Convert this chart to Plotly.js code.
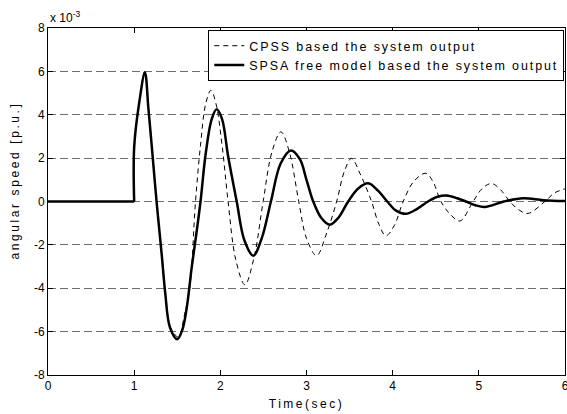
<!DOCTYPE html>
<html>
<head>
<meta charset="utf-8">
<script src="https://cdn.plot.ly/plotly-3.0.1.min.js"></script>
<style>
  html, body { margin: 0; padding: 0; background: #fff; }
  #chart { width: 567px; height: 414px; }
  .legendtext { letter-spacing: 1.9px; }
  .xtitle { letter-spacing: 2.5px; }
  .annotation[data-index="1"] .annotation-text { letter-spacing: 2.6px; }
</style>
</head>
<body>
<div id="chart"></div>
<script>
// ---- data ----
const seriesNames = ["CPSS based the system output", "SPSA free model based the system output"];

// common pre-disturbance segment (both outputs are zero until t = 1 s)
const tFlat = [0, 1.0];
const vFlat = [0, 0];

// CPSS (dashed)
const tCPSS = [1.0, 1.0, 1.06, 1.12, 1.165, 1.205, 1.26, 1.32, 1.36, 1.42, 1.515, 1.58, 1.647, 1.712, 1.77, 1.83, 1.891, 1.95, 2.02, 2.09, 2.18, 2.285, 2.39, 2.497, 2.6, 2.703, 2.8, 2.91, 3.0, 3.117, 3.23, 3.35, 3.44, 3.523, 3.62, 3.755, 3.84, 3.921, 4.02, 4.122, 4.25, 4.385, 4.47, 4.56, 4.67, 4.78, 4.934, 5.04, 5.147, 5.25, 5.36, 5.47, 5.572, 5.766, 5.88, 6.0];
const vCPSS = [0, 2.5, 4.6, 6.0, 4.3, 2.6, 0, -2.4, -4.2, -5.8, -6.25, -5.3, -3.9, 0, 2.6, 4.5, 5.13, 4.5, 2.6, 0, -2.7, -3.84, -2.6, 0, 2.3, 3.21, 2.3, 0, -1.7, -2.5, -1.5, 0, 1.4, 1.99, 1.3, 0, -1.05, -1.58, -1.1, 0, 0.95, 1.30, 0.9, 0, -0.6, -0.9, 0, 0.6, 0.83, 0.55, 0, -0.4, -0.55, 0, 0.4, 0.58];

// SPSA free model (solid)
const tSPSA = [1.0, 1.0, 1.06, 1.125, 1.165, 1.203, 1.26, 1.32, 1.36, 1.415, 1.5, 1.56, 1.61, 1.667, 1.725, 1.77, 1.83, 1.9, 1.957, 2.02, 2.09, 2.19, 2.28, 2.382, 2.48, 2.587, 2.7, 2.819, 2.923, 3.0, 3.078, 3.17, 3.271, 3.37, 3.484, 3.6, 3.716, 3.83, 3.937, 4.04, 4.153, 4.28, 4.41, 4.52, 4.625, 4.75, 4.85, 4.96, 5.07, 5.29, 5.514, 5.75, 6.0];
const vSPSA = [0, 2.5, 4.6, 5.95, 4.3, 2.6, 0, -2.46, -4.2, -5.8, -6.35, -5.9, -4.9, -3.06, -1.39, 0, 2.2, 3.8, 4.25, 3.8, 2.1, 0, -1.8, -2.5, -1.7, 0, 1.75, 2.35, 1.95, 1.0, 0, -0.75, -1.07, -0.75, 0, 0.6, 0.84, 0.5, 0, -0.42, -0.57, -0.35, 0, 0.22, 0.28, 0.15, 0, -0.17, -0.25, 0, 0.15, 0.06, 0.02];

const xTicks = [0, 1, 2, 3, 4, 5, 6];
const yTicks = [-8, -6, -4, -2, 0, 2, 4, 6, 8];
const yTickText = ["-8", "-6", "-4", "-2", "0", "2", "4", "6", "8"];
const xTitle = "Time(sec)";
const yTitle = "angular speed [p.u.]";
const exponentLabel = "x 10<sup>-3</sup>";

const font = "Liberation Sans, Arial, Helvetica, sans-serif";

const traces = [
  {
    x: tFlat, y: vFlat, type: "scatter", mode: "lines",
    legendgroup: "cpss", showlegend: false, hoverinfo: "skip",
    line: { color: "#000", width: 1, dash: "5px,4px" }
  },
  {
    x: tCPSS, y: vCPSS, type: "scatter", mode: "lines",
    name: seriesNames[0], legendgroup: "cpss",
    line: { color: "#000", width: 1, dash: "5px,4px", shape: "spline", smoothing: 1 }
  },
  {
    x: tFlat, y: vFlat, type: "scatter", mode: "lines",
    legendgroup: "spsa", showlegend: false, hoverinfo: "skip",
    line: { color: "#000", width: 2.5 }
  },
  {
    x: tSPSA, y: vSPSA, type: "scatter", mode: "lines",
    name: seriesNames[1], legendgroup: "spsa",
    line: { color: "#000", width: 2.5, shape: "spline", smoothing: 1 }
  }
];

const layout = {
  width: 567, height: 414,
  margin: { l: 48, r: 2, t: 28, b: 39, pad: 0 },
  paper_bgcolor: "#fff", plot_bgcolor: "#fff",
  font: { family: font, size: 12, color: "#000" },
  showlegend: true,
  legend: {
    x: 0.31, y: 0.994, xanchor: "left", yanchor: "top",
    bgcolor: "#fff", bordercolor: "#000", borderwidth: 1,
    font: { family: font, size: 12.5, color: "#000" },
    tracegroupgap: 0
  },
  xaxis: {
    range: [0, 6], tickvals: xTicks, ticktext: xTicks.map(String),
    ticks: "inside", ticklen: 5, tickcolor: "#000", tickwidth: 1,
    showline: true, linecolor: "#000", linewidth: 1, mirror: "ticks",
    showgrid: false, zeroline: false, ticklabeloverflow: "allow",
    tickfont: { family: font, size: 12, color: "#000" },
    title: { text: xTitle, font: { family: font, size: 12, color: "#000" }, standoff: 7 }
  },
  yaxis: {
    range: [-8, 8], tickvals: yTicks, ticktext: yTickText,
    ticks: "inside", ticklen: 5, tickcolor: "#000", tickwidth: 1,
    showline: true, linecolor: "#000", linewidth: 1, mirror: "ticks",
    showgrid: true, gridcolor: "#6e6e6e", gridwidth: 1, griddash: "8px,4px",
    zeroline: false,
    tickfont: { family: font, size: 12, color: "#000" }
  },
  annotations: [
    {
      text: exponentLabel, xref: "paper", yref: "paper", x: 0, y: 1,
      xanchor: "left", yanchor: "bottom", yshift: 1, showarrow: false,
      font: { family: font, size: 12, color: "#000" }
    },
    {
      text: yTitle, xref: "paper", yref: "paper",
      x: -0.064, y: 0.56, xanchor: "center", yanchor: "middle",
      textangle: -90, showarrow: false,
      font: { family: font, size: 12, color: "#000" }
    }
  ]
};

Plotly.newPlot("chart", traces, layout, { displayModeBar: false, staticPlot: true });
</script>
</body>
</html>
